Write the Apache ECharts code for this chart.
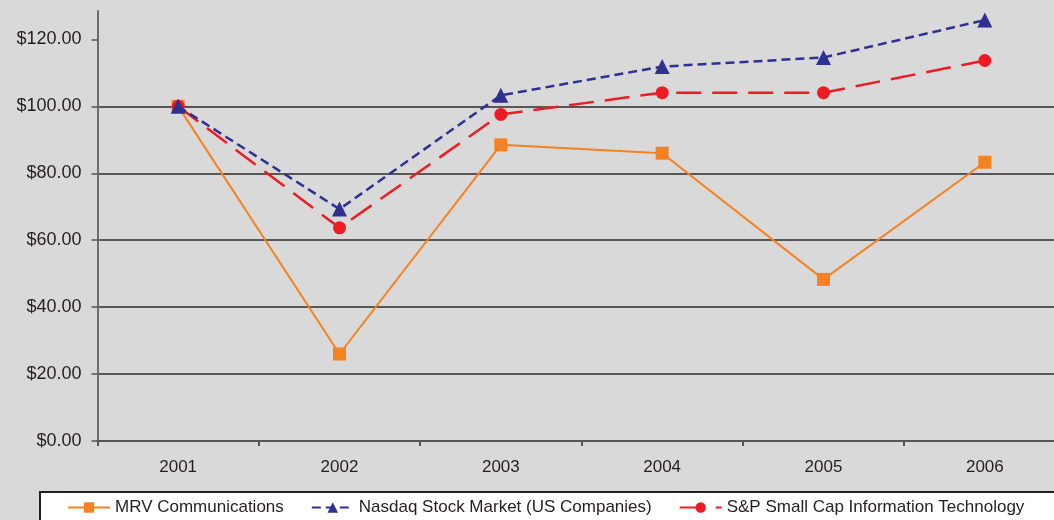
<!DOCTYPE html>
<html>
<head>
<meta charset="utf-8">
<script src="https://cdn.jsdelivr.net/npm/echarts@6/dist/echarts.min.js"></script>
<style>
html,body{margin:0;padding:0;background:#d9d9d9;}
#chart{width:1054px;height:520px;}
</style>
</head>
<body>
<div id="chart"></div>
<script>
var years = ['2001','2002','2003','2004','2005','2006'];
var mrv = [100, 26.0, 88.5, 86.0, 48.3, 83.3];
var nasdaq = [100, 69.3, 103.3, 111.9, 114.6, 125.8];
var spSmallCapIT = [100, 63.7, 97.6, 104.1, 104.1, 113.7];
var yTicks = [0, 20, 40, 60, 80, 100, 120];
var seriesNames = ['MRV Communications', 'Nasdaq Stock Market (US Companies)', 'S&P Small Cap Information Technology'];

var FONT = '"Liberation Sans", Arial, Helvetica, sans-serif';
var chart = echarts.init(document.getElementById('chart'), null, {renderer: 'canvas'});
chart.setOption({
  backgroundColor: '#d9d9d9',
  animation: false,
  grid: {left: 97.5, width: 968, top: 11, bottom: 79, containLabel: false, outerBoundsMode: 'none'},
  legend: {
    left: 40, top: 492,
    width: 1000,
    backgroundColor: '#ffffff',
    borderColor: '#231f20',
    borderWidth: 2,
    borderRadius: 0,
    padding: [7, 40, 12, 27],
    itemWidth: 42,
    itemHeight: 13,
    itemGap: 27,
    textStyle: {fontFamily: FONT, fontSize: 17, color: '#231f20'},
    data: seriesNames
  },
  xAxis: {
    type: 'category',
    data: years,
    boundaryGap: true,
    axisLine: {lineStyle: {color: '#555555', width: 2}},
    axisTick: {show: true, length: 5, lineStyle: {color: '#555555', width: 2}},
    axisLabel: {margin: 18, fontFamily: FONT, fontSize: 17, color: '#231f20'},
    splitLine: {show: false}
  },
  yAxis: {
    type: 'value',
    min: 0, max: 128.5, interval: 20,
    axisLine: {show: true, lineStyle: {color: '#6d6d6d', width: 2}},
    axisTick: {show: true, length: 6, customValues: yTicks, lineStyle: {color: '#555555', width: 1.5}},
    axisLabel: {
      margin: 16, fontFamily: FONT, fontSize: 18, color: '#231f20',
      customValues: yTicks,
      formatter: function (v) { return '$' + v.toFixed(2); }
    },
    splitLine: {show: true, showMinLine: false, showMaxLine: false, lineStyle: {color: '#2b2b2b', width: 1.5}}
  },
  series: [
    {
      name: seriesNames[0], type: 'line', data: mrv, clip: false,
      symbol: 'rect', symbolSize: 13,
      lineStyle: {color: '#f58220', width: 2},
      itemStyle: {color: '#f58220'},
      z: 2
    },
    {
      name: seriesNames[1], type: 'line', data: nasdaq, clip: false,
      symbol: 'triangle', symbolSize: 15,
      lineStyle: {color: '#2e3192', width: 2.5, type: [9, 5]},
      itemStyle: {color: '#2e3192'},
      z: 4
    },
    {
      name: seriesNames[2], type: 'line', data: spSmallCapIT, clip: false,
      symbol: 'circle', symbolSize: 13,
      lineStyle: {color: '#ed1c24', width: 2.5, type: [25, 11]},
      itemStyle: {color: '#ed1c24'},
      z: 3
    }
  ]
});
</script>
</body>
</html>
